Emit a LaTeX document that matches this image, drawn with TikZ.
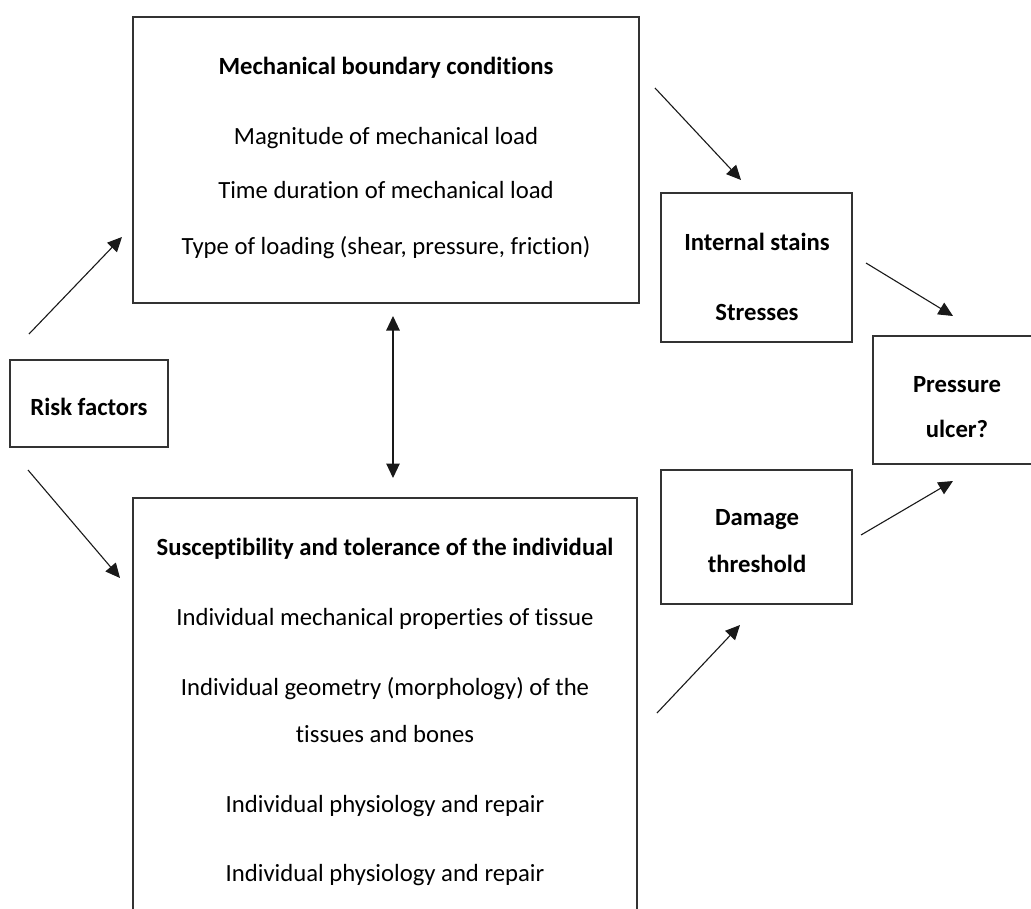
\documentclass[tikz,border=0pt]{standalone}
\usepackage{fontspec}
\setmainfont{Carlito}[Ligatures=NoCommon]
\usetikzlibrary{arrows.meta}
\begin{document}
\begin{tikzpicture}[x=1pt,y=-1pt,
  box/.style={draw=black!80, line width=1.2pt, inner sep=0pt, outer sep=0pt, anchor=north west},
  txt/.style={inner sep=0pt, font=\fontsize{24.7}{29}\selectfont, text height=15.9pt, text depth=0pt},
  hd/.style={txt, font=\fontsize{24.7}{29}\selectfont\bfseries},
  tip/.tip={Triangle[length=14.5pt,width=13.5pt]},
  link/.style={line width=1.1pt, draw=black!90, -tip},
  both/.style={line width=1.1pt, draw=black!90, tip-tip},
]
\useasboundingbox (0,0) rectangle (1031,908);

% boxes
\node[box, minimum width=506pt, minimum height=286pt] (mech) at (133,17) {};
\node[box, minimum width=191pt, minimum height=149pt] (strain) at (661,193) {};
\node[box, minimum width=172pt, minimum height=128pt] (ulcer) at (873,336) {};
\node[box, minimum width=158pt, minimum height=87pt] (risk) at (10,360) {};
\node[box, minimum width=504pt, minimum height=420pt] (tol) at (133,498) {};
\node[box, minimum width=191pt, minimum height=134pt] (dmg) at (661,470) {};

% mechanical boundary conditions
\node[hd]  (mechT)  at (386,67)  {Mechanical boundary conditions};
\node[txt] (mech1)  at (386,137) {Magnitude of mechanical load};
\node[txt] (mech2)  at (386,191) {Time duration of mechanical load};
\node[txt] (mech3)  at (386,247) {Type of loading (shear, pressure, friction)};

% susceptibility and tolerance
\node[hd]  (tolT)   at (385,548) {Susceptibility and tolerance of the individual};
\node[txt] (tol1)   at (385,618) {Individual mechanical properties of tissue};
\node[txt] (tol2a)  at (385,688) {Individual geometry (morphology) of the};
\node[txt] (tol2b)  at (385,735) {tissues and bones};
\node[txt] (tol3)   at (385,805) {Individual physiology and repair};
\node[txt] (tol4)   at (385,874) {Individual physiology and repair};

% small boxes
\node[hd] (riskT)   at (89,408)  {Risk factors};
\node[hd] (strainA) at (757,243) {Internal stains};
\node[hd] (strainB) at (757,313) {Stresses};
\node[hd] (dmgA)    at (757,518) {Damage};
\node[hd] (dmgB)    at (757,565) {threshold};
\node[hd] (ulcerA)  at (957,385) {Pressure};
\node[hd] (ulcerB)  at (957,430) {ulcer?};

% connector end points
\coordinate (r1s) at (29,334);   \coordinate (r1e) at (122,237);
\coordinate (r2s) at (28,470);   \coordinate (r2e) at (120,578);
\coordinate (dbs) at (393,316);  \coordinate (dbe) at (393,478);
\coordinate (m1s) at (655,88);   \coordinate (m1e) at (741,180);
\coordinate (s1s) at (866,263);  \coordinate (s1e) at (953,316);
\coordinate (d1s) at (861,535);  \coordinate (d1e) at (953,481);
\coordinate (t1s) at (657,713);  \coordinate (t1e) at (740,625);

% connectors
\draw[link] (r1s) -- (r1e);
\draw[link] (r2s) -- (r2e);
\draw[both] (dbs) -- (dbe);
\draw[link] (m1s) -- (m1e);
\draw[link] (s1s) -- (s1e);
\draw[link] (d1s) -- (d1e);
\draw[link] (t1s) -- (t1e);
\end{tikzpicture}
\end{document}
